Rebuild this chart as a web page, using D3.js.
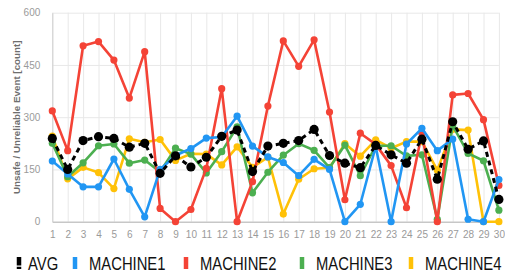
<!DOCTYPE html>
<html>
<head>
<meta charset="utf-8">
<script src="https://cdn.jsdelivr.net/npm/d3@7"></script>
<style>
  body { margin: 0; background: #fff; }
  svg { display: block; }
</style>
</head>
<body>
<script>
var days = d3.range(1, 31).map(String);
var yTicks = [0, 150, 300, 450, 600];

var avg      = [239,150,233,244,239,214,225,139,189,157,185,245,263,144,217,225,233,265,190,168,155,219,192,168,237,122,287,208,232,64];
var machine1 = [174,137,100,100,180,93,14,150,190,210,240,243,303,217,186,170,132,179,150,0,50,216,0,223,268,204,237,7,0,121];
var machine2 = [318,204,505,517,464,355,488,38,0,35,153,382,0,115,332,519,446,522,315,63,254,222,161,40,254,0,364,368,293,104];
var machine3 = [225,129,169,218,223,168,177,143,211,194,140,201,272,83,142,191,224,205,155,220,132,218,218,189,192,7,276,196,175,33];
var machine4 = [246,123,156,141,95,238,228,236,176,195,194,163,215,156,185,22,122,152,155,224,188,235,211,230,230,148,265,263,0,0];

var series = [
  { name: 'AVG', values: avg, color: '#000000', dashed: true },
  { name: 'MACHINE1', values: machine1, color: '#2196F3' },
  { name: 'MACHINE2', values: machine2, color: '#F44336' },
  { name: 'MACHINE3', values: machine3, color: '#4CAF50' },
  { name: 'MACHINE4', values: machine4, color: '#FFC107' }
];

var width = 505, height = 274;
var plotLeft = 52.3, plotRight = 498.9, plotTop = 12.7, plotBottom = 221.7;

var svg = d3.select('body').append('svg')
  .attr('width', width)
  .attr('height', height);

var x = d3.scalePoint().domain(days).range([plotLeft, plotRight]);
var y = d3.scaleLinear().domain([0, 600]).range([plotBottom, plotTop]);

// grid
svg.append('g')
  .attr('transform', 'translate(0,' + plotBottom + ')')
  .call(d3.axisBottom(x).tickSize(-(plotBottom - plotTop)).tickFormat(''))
  .call(g => g.select('.domain').remove())
  .call(g => g.selectAll('line').attr('stroke', '#e8e8e8'));

svg.append('g')
  .attr('transform', 'translate(' + plotLeft + ',0)')
  .call(d3.axisLeft(y).tickValues(yTicks).tickSize(-(plotRight - plotLeft)).tickFormat(''))
  .call(g => g.select('.domain').remove())
  .call(g => g.selectAll('line').attr('stroke', '#e8e8e8'));

// axes
svg.append('g')
  .attr('transform', 'translate(' + plotLeft + ',0)')
  .call(d3.axisLeft(y).tickValues(yTicks).tickSize(0).tickPadding(12))
  .call(g => g.select('.domain').attr('stroke', '#cfcfcf'))
  .call(g => g.selectAll('text')
    .attr('fill', '#9a9a9a')
    .style('font', '10px "Liberation Sans", Arial, sans-serif'));

svg.append('g')
  .attr('transform', 'translate(0,' + plotBottom + ')')
  .call(d3.axisBottom(x).tickSize(0).tickPadding(9))
  .call(g => g.select('.domain').attr('stroke', '#b5b5b5'))
  .call(g => g.selectAll('text')
    .attr('fill', '#9a9a9a')
    .style('font', '10px "Liberation Sans", Arial, sans-serif'));

svg.append('text')
  .attr('transform', 'translate(17,' + ((plotTop + plotBottom) / 2) + ') rotate(-90)')
  .attr('text-anchor', 'middle')
  .attr('dy', '0.35em')
  .attr('fill', '#6e6e6e')
  .style('font', 'bold 9.8px "Liberation Sans", Arial, sans-serif')
  .text('Unsafe / Unreliable Event [count]');

var line = d3.line()
  .x((d, i) => x(days[i]))
  .y(d => y(d));

// draw in reverse so AVG ends on top
series.slice().reverse().forEach(function (s) {
  var g = svg.append('g');
  g.append('path')
    .datum(s.values)
    .attr('d', line)
    .attr('fill', 'none')
    .attr('stroke', s.color)
    .attr('stroke-width', s.dashed ? 3 : 2.6)
    .attr('stroke-dasharray', s.dashed ? '5,4' : null)
    .attr('stroke-linejoin', 'round');
  g.selectAll('circle')
    .data(s.values)
    .enter().append('circle')
    .attr('cx', (d, i) => x(days[i]))
    .attr('cy', d => y(d))
    .attr('r', s.dashed ? 4.6 : 3.6)
    .attr('fill', s.color);
});

// legend
var legendX = [16, 72, 183, 299, 408];
var legend = svg.append('g').attr('transform', 'translate(0,270)');
var item = legend.selectAll('g')
  .data(series)
  .enter().append('g')
  .attr('transform', (d, i) => 'translate(' + legendX[i] + ',0)');

item.append('line')
  .attr('x1', 3).attr('x2', 3)
  .attr('y1', -13).attr('y2', -1)
  .attr('stroke', d => d.color)
  .attr('stroke-width', 4.5)
  .attr('stroke-dasharray', d => d.dashed ? '8.5,1.3,2.5' : null);

// narrow face: squeeze a regular sans horizontally
item.append('text')
  .attr('transform', (d, i) => 'translate(' + (i === 0 ? 12 : 17) + ',0) scale(0.8,1)')
  .attr('fill', '#111')
  .style('font', '18.5px "Liberation Sans", Arial, sans-serif')
  .text(d => d.name);
</script>
</body>
</html>
